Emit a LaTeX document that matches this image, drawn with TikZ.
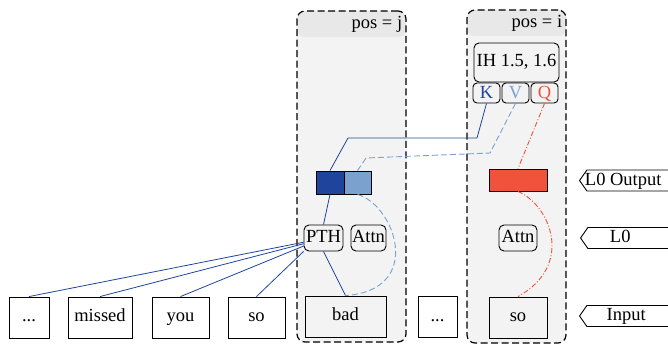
\documentclass[tikz,border=0pt]{standalone}
\usepackage{fontspec}
\setmainfont{Liberation Serif}
\usetikzlibrary{shapes.symbols,calc}

\definecolor{kblue}{RGB}{31,68,156}
\definecolor{vblue}{RGB}{123,161,207}
\definecolor{qred}{RGB}{240,83,59}
\definecolor{colfill}{RGB}{243,243,243}
\definecolor{headfill}{RGB}{232,232,232}

\begin{document}
\begin{tikzpicture}[x=1pt, y=-1pt, line width=0.9pt,
  font=\fontsize{18.5}{22}\selectfont,
  col/.style={draw, dash pattern=on 7pt off 3.5pt, line width=1.2pt,
    rounded corners=8pt, fill=colfill, inner sep=0pt,
    path picture={\fill[headfill] (path picture bounding box.north west)
      rectangle ([yshift=-26pt]path picture bounding box.north east);}},
  tok/.style={draw, inner sep=0pt, minimum height=41pt,
    text height=12.5pt, text depth=4pt},
  mod/.style={draw, rounded corners=5pt, inner sep=0pt, minimum height=26pt,
    text height=12.5pt, text depth=4pt},
  kvq/.style={draw, rounded corners=4pt, inner sep=0pt,
    minimum width=27pt, minimum height=20pt, text height=12.5pt, text depth=1pt},
  layer/.style={draw, signal, signal to=west, signal pointer angle=110,
    inner sep=0pt, minimum width=102pt, minimum height=21pt,
    text height=12.5pt, text depth=3pt},
  kline/.style={kblue, line width=0.8pt},
  vline/.style={vblue, line width=0.9pt, dash pattern=on 6pt off 3pt},
  qline/.style={qred, line width=0.9pt,
    dash pattern=on 5pt off 2pt on 1pt off 2pt}]
  \useasboundingbox (0,0) rectangle (668,345);

  % columns
  \node[col, minimum width=109pt, minimum height=331pt] (colj) at (351.5,176.5) {};
  \node[col, minimum width=99pt, minimum height=333pt] (coli) at (516.5,176.5) {};
  \node[anchor=north east, inner xsep=4pt, inner ysep=0pt, minimum height=26pt]
    (hj) at (colj.north east) {pos = j};
  \node[anchor=north east, inner xsep=4pt, inner ysep=0pt, minimum height=26pt]
    (hi) at (coli.north east) {pos = i};

  % head at pos i
  \node[mod, minimum width=85pt, minimum height=39pt] (ih) at (516.5,62.5) {IH 1.5, 1.6};
  \node[kvq, text=kblue] (k) at (486.5,93) {K};
  \node[kvq, text=vblue] (v) at (515.5,93) {V};
  \node[kvq, text=qred]  (q) at (544.5,93) {Q};

  % L0 output
  \node[draw, fill=kblue, minimum width=28pt, minimum height=23pt, inner sep=0pt]
    (outk) at (330,182.5) {};
  \node[draw, fill=vblue, minimum width=27pt, minimum height=23pt, inner sep=0pt]
    (outv) at (357.5,182.5) {};
  \node[draw, fill=qred, minimum width=58pt, minimum height=22pt, inner sep=0pt]
    (outq) at (518,180) {};

  % L0
  \node[mod, minimum width=39pt] (pth)   at (323.5,238) {PTH};
  \node[mod, minimum width=35pt] (attnj) at (368.5,238) {Attn};
  \node[mod, minimum width=38pt] (attni) at (518,238) {Attn};

  % input tokens
  \node[tok, minimum width=40pt] (w1) at (29,317.5)    {...};
  \node[tok, minimum width=64pt] (w2) at (100,317.5)   {missed};
  \node[tok, minimum width=57pt] (w3) at (180.5,317.5) {you};
  \node[tok, minimum width=57pt] (w4) at (256.5,317.5) {so};
  \node[tok, minimum width=81pt] (wj) at (345.5,316.5) {bad};
  \node[tok, minimum width=39pt] (w5) at (437.5,317)   {...};
  \node[tok, minimum width=58pt] (wi) at (518,317.5)   {so};

  % layer tags (right end runs past the edge)
  \node[layer, anchor=west] (tagout) at (579,180.5) {\hspace*{-22pt}L0 Output};
  \node[layer, anchor=west] (tagl0)  at (580,238)   {\hspace*{-30pt}L0};
  \node[layer, anchor=west] (tagin)  at (579,316)   {\hspace*{-16pt}Input};

  % K and V routes
  \coordinate (kb1) at (477,138);
  \coordinate (kb2) at (348,138);
  \coordinate (vb1) at (490,153);
  \coordinate (vb2) at (366,158);
  \draw[kline] (k.south) -- (kb1) -- (kb2) -- (outk.north);
  \draw[vline] (v.south) -- (vb1) -- (vb2) -- (outv.north);
  \draw[qline] (q.south) -- (outq.north);

  % PTH reads previous tokens
  \draw[kline] (outk.south) -- (pth.north);
  \draw[kline] (pth.south) -- (wj.north);
  \draw[kline] (pth.192) -- (w1.north);
  \draw[kline] (pth.196) -- (w2.north);
  \draw[kline] (pth.202) -- (w3.north);
  \draw[kline] (pth.south west) -- (w4.north);

  % values and queries from the token itself
  \draw[vline] (outv.south) .. controls (395,205) and (425,290) .. (wj.north);
  \draw[qline] (outq.south) .. controls (550,205) and (575,265) .. (wi.north);
\end{tikzpicture}
\end{document}
